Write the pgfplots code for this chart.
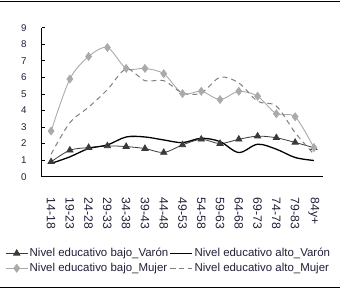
\documentclass[border=0pt]{standalone}
\usepackage{pgfplots}
\pgfplotsset{compat=1.18}
\usepackage{fontspec}
\setmainfont{Liberation Sans}
\definecolor{bv}{HTML}{3A3A3A}
\definecolor{bm}{HTML}{AAAAAA}
\definecolor{am}{HTML}{7F7F7F}
\definecolor{tk}{HTML}{202038}
\begin{document}
\begin{tikzpicture}[x=1bp,y=1bp]
\useasboundingbox (0,0) rectangle (340,290);
\draw[line width=1bp] (0,288.2) -- (340,288.2);
\draw[line width=1bp] (0,2.7) -- (340,2.7);
\begin{axis}[
  at={(41.7bp,113.3bp)}, anchor=south west,
  scale only axis, width=281.6bp, height=149bp,
  xmin=-0.5, xmax=14.5, ymin=0, ymax=9,
  axis lines*=left, axis line style={line width=0.8bp, black},
  tick align=inside,
  xtick={0,...,14},
  xticklabels={14-18,19-23,24-28,29-33,34-38,39-43,44-48,49-53,54-58,59-63,64-68,69-73,74-78,79-83,84y+},
  xtick style={draw=none},
  minor xtick={-0.5,0.5,...,14.5},
  minor tick length=5bp, major tick length=3.5bp,
  minor tick style={line width=0.8bp, black},
  ytick={0,...,9},
  ytick style={line width=0.8bp, black},
  /pgf/number format/assume math mode=true,
  xticklabel style={rotate=-90, anchor=west, font=\fontsize{12.2}{13}\selectfont, text=tk, inner sep=0pt},
  xticklabel shift=21bp,
  yticklabel style={anchor=east, font=\fontsize{9.8}{11}\selectfont, text=tk, inner sep=0pt},
  yticklabel shift=15bp,
  legend columns=2,
  legend cell align=left,
  legend image code/.code={\draw[mark repeat=2,mark phase=2,#1] plot coordinates {(0bp,0bp) (11bp,0bp) (22bp,0bp)};},
  legend style={at={(-0.13,-0.47)}, anchor=north west, draw=none, fill=none,
    inner sep=0pt, font=\fontsize{11.5}{13}\selectfont, text=tk,
    nodes={inner sep=1.5bp}, row sep=2bp,
    /tikz/every even column/.append style={column sep=0pt}},
]
\addplot[bv, line width=0.8bp, smooth, tension=0.5, mark=triangle*, mark size=3.6bp, mark options={fill=bv, solid}]
  coordinates {(0,0.9)(1,1.6)(2,1.76)(3,1.86)(4,1.82)(5,1.7)(6,1.46)(7,1.92)(8,2.26)(9,2.0)(10,2.26)(11,2.45)(12,2.35)(13,2.07)(14,1.75)};
\addlegendentry{Nivel educativo bajo\_Varón}
\addplot[black, line width=1.3bp, smooth, tension=0.55]
  coordinates {(0,0.8)(1,1.2)(2,1.7)(3,1.92)(4,2.4)(5,2.4)(6,2.22)(7,2.06)(8,2.32)(9,2.12)(10,1.46)(11,1.96)(12,1.66)(13,1.16)(14,0.98)};
\addlegendentry{Nivel educativo alto\_Varón}
\addplot[bm, line width=0.9bp, smooth, tension=0.5, mark=diamond*, mark size=3.8bp, mark options={fill=bm, solid}]
  coordinates {(0,2.76)(1,5.9)(2,7.26)(3,7.8)(4,6.54)(5,6.54)(6,6.22)(7,5.02)(8,5.16)(9,4.66)(10,5.16)(11,4.86)(12,3.8)(13,3.62)(14,1.75)};
\addlegendentry{Nivel educativo bajo\_Mujer}
\addplot[am, line width=1bp, smooth, tension=0.55, dash pattern=on 5bp off 4bp]
  coordinates {(0,1.36)(1,3.26)(2,4.2)(3,5.26)(4,6.5)(5,5.8)(6,5.8)(7,5.06)(8,5.06)(9,6.0)(10,5.66)(11,4.56)(12,4.26)(13,2.66)(14,1.36)};
\addlegendentry{Nivel educativo alto\_Mujer}
\end{axis}
\end{tikzpicture}
\end{document}
